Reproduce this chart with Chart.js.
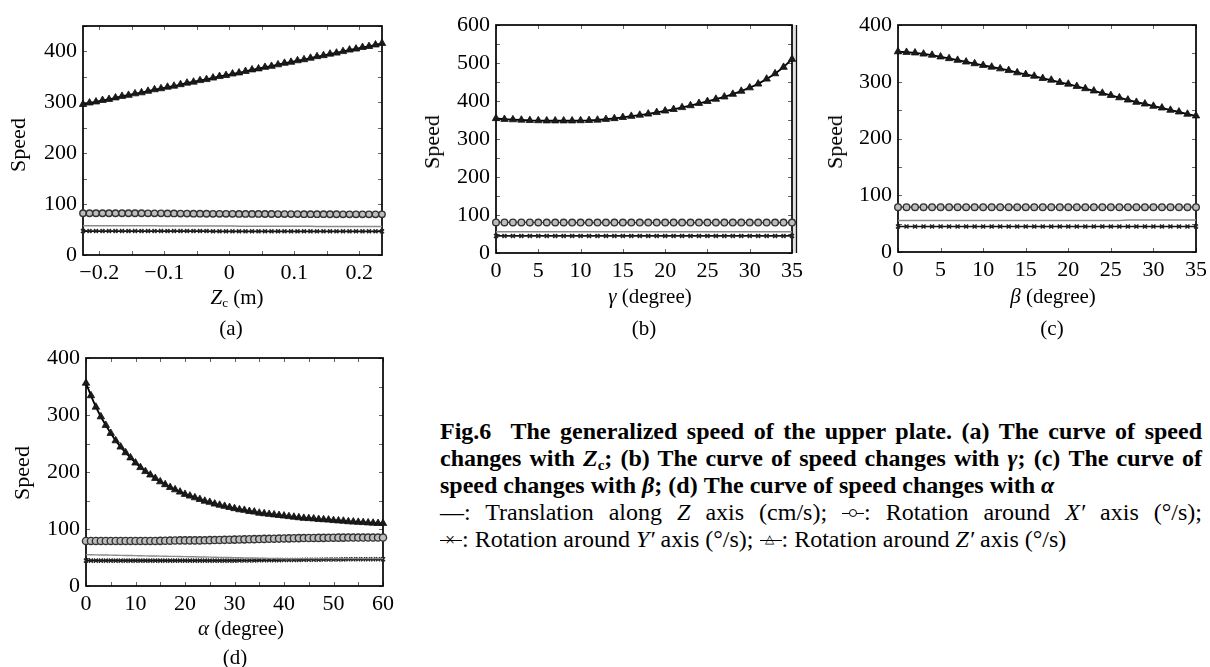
<!DOCTYPE html>
<html>
<head>
<meta charset="utf-8">
<script src="https://cdn.jsdelivr.net/npm/chart.js@4.4.1/dist/chart.umd.min.js"></script>
<style>
  html,body{margin:0;padding:0;background:#fff;}
  body{width:1210px;height:667px;position:relative;overflow:hidden;font-family:"Liberation Serif",serif;color:#000;}
  canvas{position:absolute;}
  .lbl{position:absolute;transform:translate(-50%,-50%);white-space:nowrap;font-size:21px;line-height:1;}
  .ylbl{position:absolute;transform:translate(-50%,-50%) rotate(-90deg);white-space:nowrap;font-size:22px;line-height:1;}
  .lbl sub{font-size:13px;vertical-align:-3px;}
  #cap{position:absolute;left:440px;top:418px;width:762px;font-size:24px;line-height:27px;}
  #cap .b{font-weight:bold;}
  #cap .j{text-align:justify;text-align-last:justify;}
  #cap sub{font-size:15px;vertical-align:-4px;line-height:0;}
  .sym{display:inline-block;position:relative;width:22px;height:14px;vertical-align:0px;}
  .sym::before{content:"";position:absolute;left:0;right:0;top:7px;height:1px;background:#000;}
  .sym.c::after{content:"";position:absolute;left:7px;top:3px;width:8px;height:8px;border:1px solid #000;border-radius:50%;background:#fff;box-sizing:border-box;}
  .sym.x::after{content:"×";position:absolute;left:5px;top:-5px;font-size:18px;line-height:24px;}
  .sym.t::after{content:"△";position:absolute;left:5px;top:-4px;font-size:12px;line-height:20px;}
</style>
</head>
<body>
<canvas id="ca" width="420" height="300" style="left:0px;top:0px;"></canvas>
<canvas id="cb" width="410" height="300" style="left:410px;top:0px;"></canvas>
<canvas id="cc" width="395" height="300" style="left:815px;top:0px;"></canvas>
<canvas id="cd" width="420" height="300" style="left:0px;top:330px;"></canvas>

<div class="ylbl" style="left:18px;top:145px;">Speed</div>
<div class="ylbl" style="left:432px;top:142px;">Speed</div>
<div class="ylbl" style="left:835px;top:142px;">Speed</div>
<div class="ylbl" style="left:22px;top:473px;">Speed</div>

<div class="lbl" style="left:237px;top:298px;"><i>Z</i><sub>c</sub> (m)</div>
<div class="lbl" style="left:231px;top:328px;">(a)</div>
<div class="lbl" style="left:650px;top:296px;"><i>γ</i> (degree)</div>
<div class="lbl" style="left:644px;top:328px;">(b)</div>
<div class="lbl" style="left:1053px;top:296px;"><i>β</i> (degree)</div>
<div class="lbl" style="left:1052px;top:328px;">(c)</div>
<div class="lbl" style="left:241px;top:628px;"><i>α</i> (degree)</div>
<div class="lbl" style="left:235px;top:657px;">(d)</div>

<div id="cap">
  <div class="b j">Fig.6&nbsp;&nbsp;The generalized speed of the upper plate. (a) The curve of speed</div>
  <div class="b j">changes with <i>Z</i><sub>c</sub>; (b) The curve of speed changes with <i>γ</i>; (c) The curve of</div>
  <div class="b">speed changes with <i>β</i>; (d) The curve of speed changes with <i>α</i></div>
  <div class="j">—: Translation along <i>Z</i> axis (cm/s); <span class="sym c"></span>: Rotation around <i>X′</i> axis (°/s);</div>
  <div><span class="sym x"></span>: Rotation around <i>Y′</i> axis (°/s); <span class="sym t"></span>: Rotation around <i>Z′</i> axis (°/s)</div>
</div>

<script>
// ---------------- DATA ----------------
// (a) speed vs Zc (m)
const zcValues = [-0.225,-0.215,-0.205,-0.195,-0.185,-0.175,-0.165,-0.155,-0.145,-0.135,-0.125,-0.115,-0.105,-0.095,-0.085,-0.075,-0.065,-0.055,-0.045,-0.035,-0.025,-0.015,-0.005,0.005,0.015,0.025,0.035,0.045,0.055,0.065,0.075,0.085,0.095,0.105,0.115,0.125,0.135,0.145,0.155,0.165,0.175,0.185,0.195,0.205,0.215,0.225,0.235];
const aTransZ = [57.5,57.5,57.5,57.5,57.5,57.5,57.5,57.5,57.5,57.5,57.5,57.5,57,57,57,57,57,57,57,57,57,57,57,57,56.5,56.5,56.5,56.5,56.5,56.5,56.5,56.5,56.5,56.5,56.5,56.5,56,56,56,56,56,56,56,56,56,56,56];
const aRotX = [82,82,82,82,82,82,82,82,82,82,81.8,81.8,81.8,81.6,81.6,81.5,81.4,81.3,81.2,81.1,81,81,80.9,80.9,80.8,80.8,80.7,80.7,80.6,80.6,80.5,80.5,80.4,80.4,80.3,80.3,80.2,80.2,80.1,80.1,80,80,80,80,80,80,80];
const aRotY = [47,47,47,47,47,47,47,47,47,47,47,47,47,47,47,47,47,47,47,47,46.5,46.5,46.5,46.5,46.5,46.5,46.5,46.5,46.5,46.5,46.5,46.5,46.5,46.5,46.5,46.5,46.5,46.5,46.5,46.5,46.5,46.5,46.5,46.5,46.5,46.5,46.5];
const aRotZ = [296,299,301,304,306,309,312,314,317,319,322,325,327,330,332,335,338,340,343,345,348,351,353,356,358,361,364,366,369,371,374,377,379,382,384,387,390,392,395,397,400,403,405,408,410,413,416];

// (b) speed vs gamma (degree)
const gammaValues = [0,1,2,3,4,5,6,7,8,9,10,11,12,13,14,15,16,17,18,19,20,21,22,23,24,25,26,27,28,29,30,31,32,33,34,35];
const bTransZ = [56,56,56,56,56,56,56,56,56,56,56,56,56,56,56,56,56,56,56,56,56,56,56,56,56,56,56,56,56,56,56,56,56,56,56,56];
const bRotX = [80.5,80.5,80.5,80.4,80.4,80.3,80.3,80.2,80.2,80.1,80.1,80,80,80,80,80,80,80,80,80,80,80,80,80,80,80,80,80,80,80,80,80,80,80,80,80];
const bRotY = [45,45,45,45,45,45,45,45,45,45,45,45,45,45,45,45,45,45,45,45,45,45,45,45,45,45,45,45,45,45,45,45,45,45,45,45];
const bRotZ = [354,352,351,350,349,348.5,348,348,348,348,348.5,349,350,352,354,357,360,363,366,370,374,378,383,388,394,399,405,411,418,426,435,445,458,472,489,510];

// (c) speed vs beta (degree)
const betaValues = [0,1,2,3,4,5,6,7,8,9,10,11,12,13,14,15,16,17,18,19,20,21,22,23,24,25,26,27,28,29,30,31,32,33,34,35];
const cTransZ = [55.5,55.5,55.5,55.5,55.5,55.5,55.5,55.5,55.5,55.5,55.5,55.5,55.5,55.5,55.5,55.5,55.5,55.5,55.5,55.5,55.5,55.5,55.5,55.5,55.5,55.5,55.5,56.5,56.5,56.5,56.5,56.5,56.5,56.5,56.5,56.5];
const cRotX = [79,79,79,79,79,79,79,79,79,79,79,79,79,79,79,79,79,79,79,79,79,79,79,79,79,79,79,79,79,79,79,79,79,79,79,79];
const cRotY = [45,45,45,45,45,45,45,45,45,45,45,45,45,45,45,45,45,45,45,45,45,45,45,45,45,45,45,45,45,45,45,45,45,45,45,45];
const cRotZ = [353,352,351,349,347,344,341,338,335,332,329,326,323,320,316,313,310,306,303,299,296,292,288,284,280,276,272,268,264,261,257,254,250,247,243,240];

// (d) speed vs alpha (degree)
const alphaValues = [0,1,2,3,4,5,6,7,8,9,10,11,12,13,14,15,16,17,18,19,20,21,22,23,24,25,26,27,28,29,30,31,32,33,34,35,36,37,38,39,40,41,42,43,44,45,46,47,48,49,50,51,52,53,54,55,56,57,58,59,60];
const dTransZ = [55,54.8,54.6,54.5,54.3,54.1,53.9,53.8,53.6,53.4,53.3,53.1,52.9,52.7,52.6,52.4,52.2,52,51.9,51.7,51.5,51.3,51.2,51,50.8,50.6,50.5,50.3,50.1,49.9,49.8,49.6,49.4,49.2,49.1,48.9,48.7,48.5,48.4,48.2,48,48,48,48,48,48,48,48,48,48,48,48,48,48,48,48,48,48,48,48,48];
const dRotX = [79,79,79,79,79,79,79,79,79,79,79,79,79,79,79,79.2,79.4,79.6,79.8,80,80,80,80,80,80.2,80.4,80.6,80.8,81,81.2,81.4,81.6,81.8,82,82.2,82.4,82.6,82.8,83,83.2,83.4,83.6,83.8,84,84.1,84.2,84.3,84.4,84.5,84.6,84.7,84.8,84.9,85,85,85,85,85,85,85,85];
const dRotY = [44.5,44.5,44.5,44.5,44.5,44.5,44.5,44.5,44.5,44.5,44.5,44.5,44.5,44.5,44.5,44.5,44.5,44.5,44.5,44.5,44.5,44.5,44.5,44.5,44.5,44.5,44.5,44.5,44.5,44.5,44.5,44.6,44.7,44.8,44.9,45,45.1,45.2,45.3,45.4,45.5,45.6,45.7,45.8,45.9,46,46.1,46.2,46.3,46.4,46.5,46.6,46.7,46.8,46.9,47,47,47,47,47,47];
const dRotZ = [356,334,314,297,282,268,255,244,234,225,216,208,201,195,189,183,178,173,169,165,161,158,155,152,149,147,144,142,140,138,136,134,133,131,130,128,127,126,125,124,123,122,121,120,119,118.5,118,117,116.5,116,115,114.5,114,113,112.5,112,111.5,111,110.5,110,110];

// axis tick labels for panel (a)
const zcTickValues = [-0.2,-0.1,0,0.1,0.2];
const zcTickLabels = ["−0.2","−0.1","0","0.1","0.2"];

// ---------------- RENDERING ----------------
const FONT = {family:"'Liberation Serif', serif", size:22};
const YW = 70, XH = 36;

const framePlugin = {
  id:'frame',
  beforeDatasetsDraw(chart, args, opts){
    const {ctx, chartArea:a} = chart;
    const x = chart.scales.x, y = chart.scales.y;
    ctx.save();
    ctx.strokeStyle = '#666'; ctx.lineWidth = 1;
    const L = 4;
    ctx.beginPath();
    const x0 = Math.ceil((x.min - 1e-9)/opts.xs)*opts.xs;
    for (let v = x0; v <= x.max + 1e-9; v += opts.xs){
      const p = Math.round(x.getPixelForValue(v)) + 0.5;
      ctx.moveTo(p, a.top); ctx.lineTo(p, a.top + L);
      ctx.moveTo(p, a.bottom); ctx.lineTo(p, a.bottom - L);
    }
    const y0 = Math.ceil((y.min - 1e-9)/opts.ys)*opts.ys;
    for (let v = y0; v <= y.max + 1e-9; v += opts.ys){
      const p = Math.round(y.getPixelForValue(v)) + 0.5;
      ctx.moveTo(a.left, p); ctx.lineTo(a.left + L, p);
      ctx.moveTo(a.right, p); ctx.lineTo(a.right - L, p);
    }
    ctx.stroke();
    ctx.strokeStyle = '#000'; ctx.lineWidth = 1.7;
    ctx.strokeRect(a.left, a.top, a.right - a.left, a.bottom - a.top);
    if (opts.doubleRight){
      ctx.strokeStyle = '#e2e2e2'; ctx.lineWidth = 3;
      ctx.beginPath(); ctx.moveTo(a.right + 2.5, a.top); ctx.lineTo(a.right + 2.5, a.bottom); ctx.stroke();
      ctx.strokeStyle = '#111'; ctx.lineWidth = 1.3;
      ctx.beginPath(); ctx.moveTo(a.right + 4.5, a.top); ctx.lineTo(a.right + 4.5, a.bottom); ctx.stroke();
    }
    ctx.restore();
  }
};
Chart.register(framePlugin);

function pts(xs, ys){ return xs.map((v,i)=>({x:v, y:ys[i]})); }

function series(xs, trans, rx, ry, rz, circR){
  return [
    {data:pts(xs,trans), borderColor:'#8a8a8a', borderWidth:1.4, pointRadius:0, clip:false},
    {data:pts(xs,rx), borderColor:'#333', borderWidth:1.2, pointStyle:'circle', pointRadius:circR, pointBorderColor:'#333', pointBackgroundColor:'#bdbdbd', pointBorderWidth:1.4, clip:false},
    {data:pts(xs,ry), borderColor:'#111', borderWidth:1.6, pointStyle:'crossRot', pointRadius:2.8, pointBorderColor:'#222', pointBorderWidth:1.5, clip:false},
    {data:pts(xs,rz), borderColor:'#000', borderWidth:1.8, pointStyle:'triangle', pointRadius:4.3, pointBorderColor:'#111', pointBackgroundColor:'#1a1a1a', pointBorderWidth:0.8, clip:false}
  ];
}

function makeChart(id, box, area, xs, datasets, xopt, yopt, frameOpt){
  const padding = {
    left: area.l - box.left - YW,
    top: area.t - box.top,
    right: box.left + box.w - area.r,
    bottom: box.top + box.h - area.b - XH
  };
  return new Chart(document.getElementById(id), {
    type:'line',
    data:{datasets},
    options:{
      responsive:false, animation:false, devicePixelRatio:1,
      layout:{padding},
      plugins:{legend:{display:false}, tooltip:{enabled:false}, frame:frameOpt},
      elements:{line:{tension:0}},
      scales:{
        x:{type:'linear', min:xopt.min, max:xopt.max,
           grid:{display:false, drawTicks:false}, border:{display:false},
           ticks:{stepSize:xopt.step, includeBounds:false, autoSkip:false, maxRotation:0, color:'#000', font:FONT, padding:5,
                  callback: xopt.cb || (v=>String(v))},
           afterFit(s){ s.height = XH; s.paddingLeft = 0; s.paddingRight = 0; }},
        y:{type:'linear', min:yopt.min, max:yopt.max,
           grid:{display:false, drawTicks:false}, border:{display:false},
           ticks:{stepSize:yopt.step, includeBounds:false, autoSkip:false, color:'#000', font:FONT, padding:6},
           afterFit(s){ s.width = YW; s.paddingTop = 0; s.paddingBottom = 0; }}
      }
    }
  });
}

makeChart('ca', {left:0, top:0, w:420, h:300}, {l:83, t:26, r:382, b:255},
  zcValues, series(zcValues, aTransZ, aRotX, aRotY, aRotZ, 3.2),
  {min:-0.225, max:0.235, step:0.1, cb:(v)=>{ const i = zcTickValues.findIndex(t=>Math.abs(t-v)<1e-6); return i>=0 ? zcTickLabels[i] : ''; }},
  {min:0, max:450, step:100}, {xs:0.05, ys:50});

makeChart('cb', {left:410, top:0, w:410, h:300}, {l:496, t:25, r:792, b:253},
  gammaValues, series(gammaValues, bTransZ, bRotX, bRotY, bRotZ, 3.3),
  {min:0, max:35, step:5}, {min:0, max:600, step:100}, {xs:5, ys:50, doubleRight:true});

makeChart('cc', {left:815, top:0, w:395, h:300}, {l:898, t:25, r:1196, b:252},
  betaValues, series(betaValues, cTransZ, cRotX, cRotY, cRotZ, 3.3),
  {min:0, max:35, step:5}, {min:0, max:400, step:100}, {xs:5, ys:50});

makeChart('cd', {left:0, top:330, w:420, h:300}, {l:86, t:358, r:383, b:586},
  alphaValues, series(alphaValues, dTransZ, dRotX, dRotY, dRotZ, 3.6),
  {min:0, max:60, step:10}, {min:0, max:400, step:100}, {xs:5, ys:50});
</script>
</body>
</html>
